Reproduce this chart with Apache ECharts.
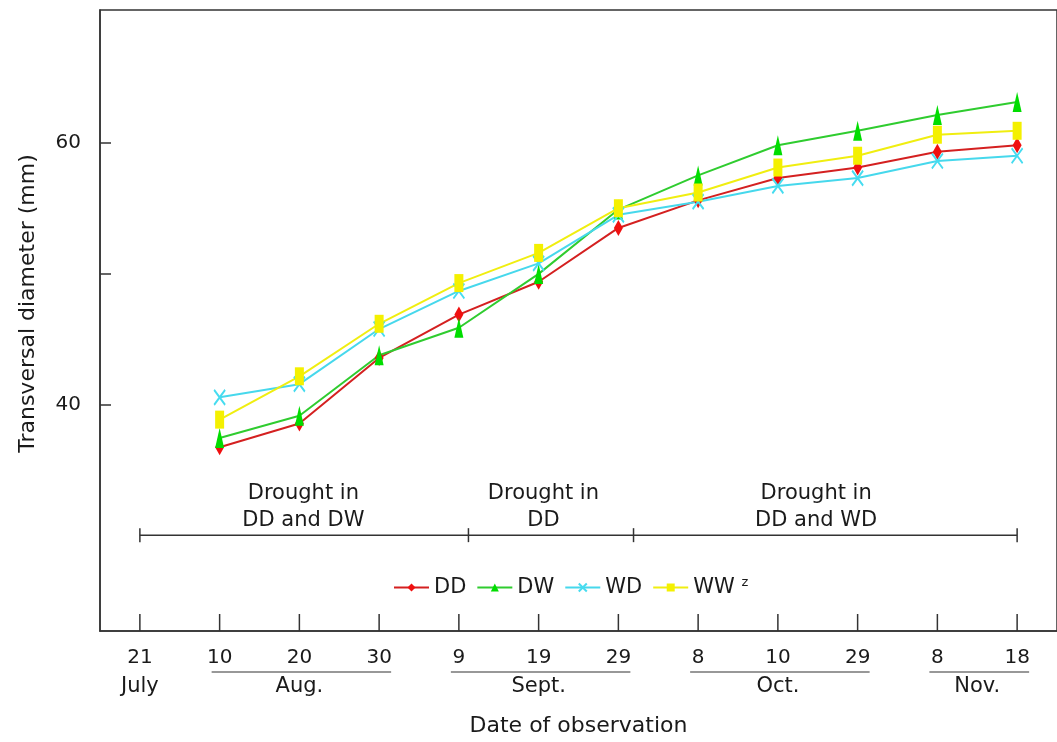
<!DOCTYPE html>
<html>
<head>
<meta charset="utf-8">
<script src="https://cdn.jsdelivr.net/npm/echarts@6/dist/echarts.min.js"></script>
<style>
  html, body { margin: 0; padding: 0; background: #ffffff; }
  #chart { width: 1057px; height: 742px; }
</style>
</head>
<body>
<div id="chart"></div>
<script>
// Observation dates (month + day); the axis shows only the day.
const categories = ['July 21', 'Aug. 10', 'Aug. 20', 'Aug. 30', 'Sept. 9', 'Sept. 19',
  'Sept. 29', 'Oct. 8', 'Oct. 10', 'Oct. 29', 'Nov. 8', 'Nov. 18'];

// Month groups under the day labels (indices into categories)
const monthNames = ['July', 'Aug.', 'Sept.', 'Oct.', 'Nov.'];
const monthFrom = [0, 1, 4, 7, 10];
const monthTo = [0, 3, 6, 9, 11];

// Transversal fruit diameter (mm) per treatment
const seriesNames = ['DD', 'DW', 'WD', 'WW'];
const dd = [null, 36.8, 38.6, 43.6, 46.9, 49.4, 53.5, 55.6, 57.3, 58.1, 59.3, 59.8];
const dw = [null, 37.5, 39.2, 43.8, 45.9, 50.0, 54.9, 57.5, 59.8, 60.9, 62.1, 63.1];
const wd = [null, 40.6, 41.6, 45.8, 48.7, 50.8, 54.5, 55.5, 56.7, 57.3, 58.6, 59.0];
const ww = [null, 38.9, 42.2, 46.2, 49.3, 51.6, 55.0, 56.2, 58.1, 59.0, 60.6, 60.9];

// Y axis
const yTicks = [40, 50, 60];
const yLabels = [40, 60];

// Drought treatment periods (in date-index units) and their captions
const droughtBounds = [0, 4.12, 6.19, 11];
const droughtCaptions = ['Drought in\nDD and DW', 'Drought in\nDD', 'Drought in\nDD and WD'];
const droughtCaptionAt = [2.05, 5.06, 8.48];
const droughtLevel = 30.1;

const FONT = 'DejaVu Sans';
const INK = '#1a1a1a';
const chart = echarts.init(document.getElementById('chart'), null, { renderer: 'canvas' });

const xSymbol = 'path://M0,0L10,10M10,0L0,10';

function lineSeries(name, data, symbol, size, lineColor, markColor) {
  return {
    name: name,
    type: 'line',
    data: data,
    symbol: symbol,
    symbolSize: size,
    showAllSymbol: true,
    connectNulls: false,
    lineStyle: { color: lineColor, width: 2 },
    itemStyle: symbol === xSymbol
      ? { color: markColor, borderColor: markColor, borderWidth: 2 }
      : { color: markColor, borderWidth: 0 },
    emphasis: { disabled: true },
    z: 3
  };
}

chart.setOption({
  animation: false,
  backgroundColor: '#ffffff',
  grid: {
    left: 100, top: 10, bottom: 110, right: -11,
    show: true, borderColor: '#333333', borderWidth: 1.5, backgroundColor: 'transparent'
  },
  legend: {
    left: 388, top: 571,
    itemWidth: 35, itemHeight: 10, itemGap: 10,
    data: seriesNames,
    formatter: function (n) { return n === 'WW' ? 'WW {sup|z}' : n; },
    textStyle: {
      fontFamily: FONT, fontSize: 21, color: INK,
      rich: { sup: { fontFamily: FONT, fontSize: 13, color: INK, verticalAlign: 'top', padding: [0, 0, 10, 0] } }
    }
  },
  xAxis: {
    type: 'category',
    data: categories,
    boundaryGap: true,
    axisLine: { lineStyle: { color: '#333333', width: 1.5 } },
    axisTick: { show: false },
    axisLabel: {
      interval: 0, margin: 17, fontFamily: FONT, fontSize: 20, color: INK, lineHeight: 20,
      formatter: function (v) { return v.split(' ')[1]; }
    },
    splitLine: { show: false },
    name: 'Date of observation',
    nameLocation: 'middle',
    nameGap: 84,
    nameTextStyle: { fontFamily: FONT, fontSize: 22, color: INK }
  },
  yAxis: {
    type: 'value',
    min: 22.8, max: 70.1,
    axisLine: { show: true, lineStyle: { color: '#333333', width: 1.5 } },
    axisTick: { show: true, inside: true, length: 11, customValues: yTicks, lineStyle: { color: '#333333', width: 1.5 } },
    axisLabel: { margin: 19, customValues: yLabels, fontFamily: FONT, fontSize: 20, color: INK },
    splitLine: { show: false },
    name: 'Transversal diameter (mm)',
    nameLocation: 'middle',
    nameRotate: 90,
    nameGap: 61,
    nameTextStyle: { fontFamily: FONT, fontSize: 22, color: INK, padding: [0, 0, 0, 34] }
  },
  series: [
    lineSeries('DD', dd, 'diamond', [9, 16], '#d42020', '#f01010'),
    lineSeries('DW', dw, 'triangle', [9, 20], '#2fcc2f', '#00dd00'),
    lineSeries('WD', wd, xSymbol, [11, 15], '#46d8ec', '#46dcf0'),
    lineSeries('WW', ww, 'rect', [9, 18], '#f0ee10', '#f4f000')
  ]
});

// Annotations placed through the axis scales
function xPix(pos) {
  const p0 = chart.convertToPixel({ xAxisIndex: 0 }, 0);
  const p1 = chart.convertToPixel({ xAxisIndex: 0 }, 1);
  return p0 + (p1 - p0) * pos;
}
function yPix(v) { return chart.convertToPixel({ yAxisIndex: 0 }, v); }

const g = [];
const axisY = yPix(22.8);
const textStyleBase = { fontFamily: FONT, fontSize: 21, fill: INK };

// Category ticks standing on the axis line
categories.forEach(function (c, i) {
  const x = xPix(i);
  g.push({ type: 'line', shape: { x1: x, y1: axisY - 17, x2: x, y2: axisY }, style: { stroke: '#333333', lineWidth: 1.5 }, z: 10 });
});

// Month names and underlines below the day labels
monthNames.forEach(function (m, k) {
  const a = monthFrom[k], b = monthTo[k];
  const cx = xPix((a + b) / 2);
  g.push({ type: 'text', x: cx, y: axisY + 56, style: Object.assign({ text: m, align: 'center', verticalAlign: 'middle' }, textStyleBase) });
  if (b > a) {
    g.push({ type: 'line', shape: { x1: xPix(a) - 8, y1: axisY + 41, x2: xPix(b) + 12, y2: axisY + 41 }, style: { stroke: '#333333', lineWidth: 1.2 } });
  }
});

// Drought period bar
const ly = yPix(droughtLevel);
g.push({ type: 'line', shape: { x1: xPix(droughtBounds[0]), y1: ly, x2: xPix(droughtBounds[droughtBounds.length - 1]), y2: ly }, style: { stroke: '#333333', lineWidth: 1.5 } });
droughtBounds.forEach(function (b) {
  const x = xPix(b);
  g.push({ type: 'line', shape: { x1: x, y1: ly - 7, x2: x, y2: ly + 7 }, style: { stroke: '#333333', lineWidth: 1.5 } });
});
droughtCaptions.forEach(function (t, k) {
  g.push({ type: 'text', x: xPix(droughtCaptionAt[k]), y: ly - 1.5,
    style: Object.assign({ text: t, align: 'center', verticalAlign: 'bottom', lineHeight: 27 }, textStyleBase) });
});

chart.setOption({ graphic: g });
</script>
</body>
</html>
